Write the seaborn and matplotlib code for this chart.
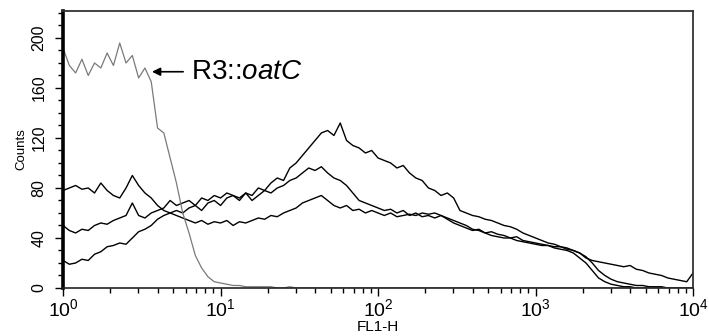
import numpy as np
import pandas as pd
import matplotlib.pyplot as plt
import matplotlib.ticker as mticker
import seaborn as sns

# Canales log (4 décadas), centros de bin en log10(FL1-H)
log_canal = np.linspace(0, 4, 101)

# Cuentas (una por canal)
r3_oatc = [192, 178, 172, 183, 170, 180, 176, 188, 178, 196,
           180, 186, 168, 176, 165, 128, 124, 104, 84, 60,
           44, 26, 16, 9, 5, 4, 3, 2, 2, 1,
           1, 1, 1, 1, 0, 0, 1, 0, 0, 0,
           0, 0, 0, 0, 0, 0, 0, 0, 0, 0,
           0, 0, 0, 0, 0, 0, 0, 0, 0, 0,
           0, 0, 0, 0, 0, 0, 0, 0, 0, 0,
           0, 0, 0, 0, 0, 0, 0, 0, 0, 0,
           0, 0, 0, 0, 0, 0, 0, 0, 0, 0,
           0, 0, 0, 0, 0, 0, 0, 0, 0, 0, 0]

cepa_a = [78, 80, 82, 79, 80, 76, 84, 78, 74, 72,
          80, 90, 82, 76, 72, 66, 62, 60, 58, 56,
          54, 52, 54, 51, 53, 52, 54, 50, 53, 52,
          54, 56, 55, 58, 57, 60, 62, 64, 68, 70,
          72, 74, 70, 66, 64, 66, 62, 63, 60, 62,
          60, 58, 60, 57, 58, 59, 58, 60, 59, 60,
          58, 56, 54, 52, 50, 47, 46, 44, 42, 41,
          40, 40, 38, 37, 36, 35, 34, 34, 32, 31,
          30, 28, 24, 20, 14, 8, 5, 3, 2, 1,
          1, 0, 0, 0, 0, 0, 0, 0, 0, 0, 0]

cepa_b = [50, 46, 44, 47, 46, 50, 52, 51, 54, 56,
          58, 68, 58, 56, 60, 62, 64, 70, 66, 68,
          70, 66, 72, 70, 74, 72, 76, 74, 72, 76,
          70, 74, 78, 76, 80, 82, 86, 88, 92, 96,
          94, 97, 92, 88, 86, 82, 76, 70, 68, 66,
          64, 62, 63, 60, 62, 58, 60, 57, 58, 56,
          58, 55, 52, 50, 48, 46, 47, 44, 45, 43,
          42, 40, 41, 38, 37, 36, 35, 34, 33, 33,
          31, 30, 28, 25, 20, 14, 10, 7, 5, 4,
          3, 2, 2, 1, 1, 1, 0, 0, 0, 0, 0]

cepa_c = [22, 19, 20, 23, 22, 27, 29, 33, 34, 36,
          35, 40, 45, 47, 50, 55, 58, 60, 62, 60,
          64, 66, 62, 68, 70, 66, 72, 74, 70, 76,
          74, 80, 78, 84, 88, 86, 96, 100, 106, 112,
          118, 124, 126, 122, 132, 118, 114, 112, 108, 110,
          104, 102, 100, 96, 98, 92, 88, 86, 80, 78,
          74, 76, 72, 62, 60, 58, 57, 55, 54, 52,
          50, 49, 47, 44, 42, 40, 38, 36, 35, 33,
          32, 30, 28, 24, 22, 21, 20, 19, 18, 17,
          18, 15, 14, 12, 11, 10, 8, 7, 6, 5, 12]

series = {'R3::oatC': r3_oatc, 'A': cepa_a, 'B': cepa_b, 'C': cepa_c}
colores = {'R3::oatC': '#7a7a7a', 'A': 'black', 'B': 'black', 'C': 'black'}
grosor = {'R3::oatC': 0.9, 'A': 1.0, 'B': 1.0, 'C': 1.0}

filas = []
for nombre, valores in series.items():
    for lc, v in zip(log_canal, valores):
        filas.append({'serie': nombre, 'FL1-H': 10 ** lc, 'Counts': v})
data = pd.DataFrame(filas)

sns.set_style('white')
plt.rcParams['font.family'] = ['Liberation Sans', 'DejaVu Sans']
plt.rcParams['mathtext.fontset'] = 'custom'
plt.rcParams['mathtext.rm'] = 'Liberation Sans'
plt.rcParams['mathtext.it'] = 'Liberation Sans:italic'
plt.rcParams['text.color'] = 'black'
plt.rcParams['axes.labelcolor'] = 'black'
plt.rcParams['xtick.color'] = 'black'
plt.rcParams['ytick.color'] = 'black'

fig = plt.figure(figsize=(7.09, 3.36), dpi=100)
ax = fig.add_axes([0.0889, 0.1429, 0.8886, 0.8244])

for nombre in ['A', 'B', 'C', 'R3::oatC']:
    sns.lineplot(data=data[data['serie'] == nombre], x='FL1-H', y='Counts',
                 color=colores[nombre], lw=grosor[nombre],
                 ax=ax, legend=False)

ax.set_xscale('log')
ax.set_xlim(1, 1e4)
ax.set_ylim(0, 221.6)

ax.xaxis.set_minor_locator(mticker.LogLocator(base=10, subs=np.arange(2, 10), numticks=20))
ax.xaxis.set_minor_formatter(mticker.NullFormatter())
ax.set_xticks([1, 10, 100, 1000, 10000])
ax.set_xticklabels([r'$10^{0}$', r'$10^{1}$', r'$10^{2}$', r'$10^{3}$', r'$10^{4}$'],
                   fontsize=14)
ax.set_yticks([0, 40, 80, 120, 160, 200])
ax.yaxis.set_minor_locator(mticker.MultipleLocator(10))
for lab in ax.get_yticklabels():
    lab.set_rotation(90)
    lab.set_va('center')
    lab.set_fontsize(11.5)

ax.tick_params(bottom=True, left=True, which='both')
ax.tick_params(axis='x', which='major', direction='out', length=6, width=1, pad=1)
ax.tick_params(axis='x', which='minor', direction='out', length=3.5, width=1)
ax.tick_params(axis='y', which='major', direction='out', length=6, width=1, pad=6)
ax.tick_params(axis='y', which='minor', direction='out', length=3.5, width=1)

ax.set_xlabel('FL1-H', fontsize=11, labelpad=0)
ax.set_ylabel('Counts', fontsize=9.5, labelpad=3)

ax.spines['left'].set_linewidth(2.6)
ax.spines['left'].set_color('black')
ax.spines['bottom'].set_linewidth(1.2)
ax.spines['bottom'].set_color('#222222')
for lado in ['top', 'right']:
    ax.spines[lado].set_linewidth(1.3)
    ax.spines[lado].set_color('#333333')

ax.annotate(r'R3::$\mathit{oatC}$', xy=(10 ** 0.565, 173), xytext=(10 ** 0.81, 173),
            fontsize=20, va='center', ha='left',
            arrowprops=dict(arrowstyle='-|>', color='black', lw=1.2,
                            mutation_scale=12, shrinkA=3, shrinkB=0))

fig.savefig('out.png', dpi=100)
